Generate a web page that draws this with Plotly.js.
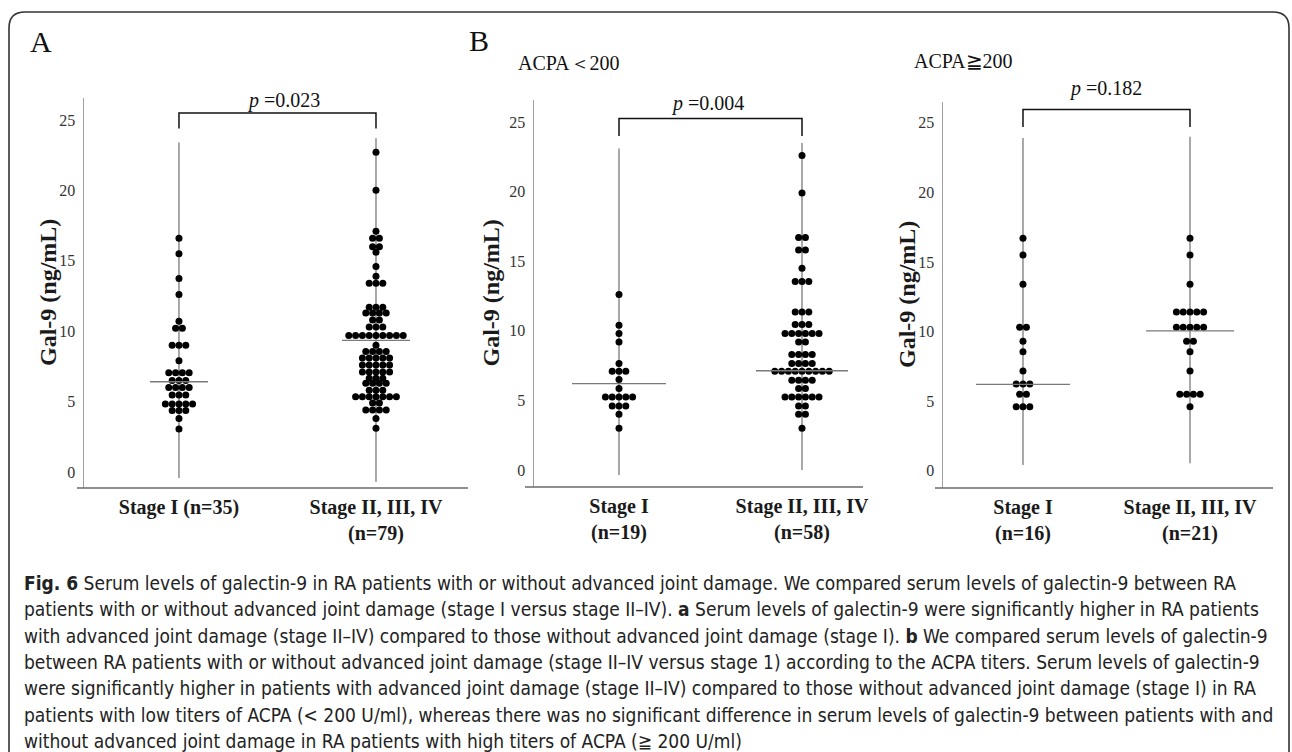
<!DOCTYPE html>
<html>
<head>
<meta charset="utf-8">
<script src="https://cdn.plot.ly/plotly-3.0.1.min.js"></script>
<style>html,body{margin:0;padding:0;background:#fff;}#chart{width:1292px;height:752px;}</style>
</head>
<body>
<div id="chart"></div>
<script>
// ---------------- DATA ----------------
const groupsA  = ["Stage I (n=35)", "Stage II, III, IV<br>(n=79)"];
const groupsB1 = ["Stage I<br>(n=19)", "Stage II, III, IV<br>(n=58)"];
const groupsB2 = ["Stage I<br>(n=16)", "Stage II, III, IV<br>(n=21)"];
const yTicks = [0, 5, 10, 15, 20, 25];

// Gal-9 (ng/mL), one entry per patient dot
const A_stage1 = [16.6, 15.5, 13.75, 12.6, 10.7, 10.2, 10.2, 9.0, 9.0, 9.0, 7.9,
  7.05, 7.05, 7.05, 7.05, 6.5, 6.5, 6.5, 6.0, 6.0, 6.0, 6.0, 5.47, 5.47, 5.47,
  4.83, 4.83, 4.83, 4.83, 4.83, 4.36, 4.36, 4.36, 3.8, 3.05];
const A_stage2 = [22.7, 20.0, 17.1, 16.6, 16.6, 16.0, 16.0, 15.6, 14.6, 13.9, 13.4, 13.4, 13.4,
  11.7, 11.7, 11.7, 11.3, 11.3, 11.3, 11.3, 10.8, 10.8, 10.3, 10.3, 10.3,
  9.7, 9.7, 9.7, 9.7, 9.7, 9.7, 9.7, 9.7, 9.7, 9.0, 8.55, 8.55, 8.55, 8.55,
  8.1, 8.1, 8.1, 8.1, 8.1, 7.6, 7.6, 7.6, 7.6, 7.6, 7.1, 7.1, 7.1, 7.1, 7.1,
  6.65, 6.65, 6.65, 6.3, 6.3, 6.3, 6.3, 5.8, 5.8, 5.8,
  5.35, 5.35, 5.35, 5.35, 5.35, 5.35, 5.35, 4.9, 4.9, 4.4, 4.4, 4.4, 4.4, 3.8, 3.1];
const B1_stage1 = [12.6, 10.4, 9.8, 9.2, 7.65, 7.1, 7.1, 7.1, 6.5, 5.85,
  5.25, 5.25, 5.25, 5.25, 5.25, 4.6, 4.6, 4.6, 4.0, 3.0];
const B1_stage2 = [22.6, 19.9, 16.7, 16.7, 15.8, 15.8, 14.5, 13.55, 13.55, 13.55,
  11.35, 11.35, 11.35, 10.45, 10.45, 10.45, 9.8, 9.8, 9.8, 9.8, 9.8, 9.8, 9.2, 9.2,
  8.3, 8.3, 8.3, 8.3, 7.65, 7.65, 7.65, 7.65, 7.1, 7.1, 7.1, 7.1, 7.1, 7.1, 7.1, 7.1, 7.1,
  6.45, 6.45, 6.45, 6.45, 5.85, 5.85, 5.25, 5.25, 5.25, 5.25, 5.25, 5.25,
  4.6, 4.6, 4.0, 4.0, 3.0];
const B2_stage1 = [16.7, 15.5, 13.4, 10.3, 10.3, 9.3, 8.55, 7.16, 6.23, 6.23, 6.23,
  5.5, 5.5, 4.6, 4.6, 4.6];
const B2_stage2 = [16.7, 15.5, 13.4, 11.4, 11.4, 11.4, 11.4, 11.4, 10.3, 10.3, 10.3, 10.3, 10.3,
  9.3, 9.3, 8.55, 7.16, 5.5, 5.5, 5.5, 5.5, 4.6];

// horizontal centre line of each group, and extent of each group's vertical line
const A_center  = [6.41, 9.35];
const B1_center = [6.2, 7.13];
const B2_center = [6.2, 10.05];
const A_lineTop  = [23.4, 23.7],  A_lineBottom  = [-0.43, -0.7];
const B1_lineTop = [23.1, 23.5],  B1_lineBottom = [-0.36, 0.0];
const B2_lineTop = [23.9, 24.0],  B2_lineBottom = [0.41, 0.53];
// comparison bracket: [bar level, leg end]
const A_bracket  = [25.5, 24.4];
const B1_bracket = [25.26, 24.0];
const B2_bracket = [25.96, 24.7];
const pValues = ["0.023", "0.004", "0.182"];

// ---------------- LAYOUT GEOMETRY (px) ----------------
const W = 1292, H = 752;
const px = v => v / W, py = v => 1 - v / H;
const panels = [
  {id: "", groups: groupsA, data: [A_stage1, A_stage2], center: A_center, top: A_lineTop, bot: A_lineBottom,
   bracket: A_bracket, p: pValues[0], xdom: [84, 468], ydom: [98, 488], xr: [-0.482, 1.467], yr: [-1.136, 26.56],
   ppu: 197, halfLine: [29, 34], xOver: 77, pPos: [283, 100], titleX: 48},
  {id: "2", groups: groupsB1, data: [B1_stage1, B1_stage2], center: B1_center, top: B1_lineTop, bot: B1_lineBottom,
   bracket: B1_bracket, p: pValues[1], xdom: [534, 863], ydom: [100, 487], xr: [-0.4645, 1.3333], yr: [-1.22, 26.58],
   ppu: 183, halfLine: [47, 46], xOver: 525, pPos: [707, 103], titleX: 490},
  {id: "3", groups: groupsB2, data: [B2_stage1, B2_stage2], center: B2_center, top: B2_lineTop, bot: B2_lineBottom,
   bracket: B2_bracket, p: pValues[2], xdom: [943, 1273], ydom: [102, 488], xr: [-0.479, 1.497], yr: [-1.243, 26.49],
   ppu: 167, halfLine: [47, 44], xOver: 935, pPos: [1105, 88], titleX: 907}
];
const dotGapPx = 6.8;
const lineGrey = "#7a7a7a";
const serif = "Liberation Serif, Times New Roman, serif";

function swarmX(values, centre, unitPerPx) {
  const counts = {}, seen = {};
  values.forEach(v => counts[v] = (counts[v] || 0) + 1);
  return values.map(v => {
    seen[v] = seen[v] === undefined ? 0 : seen[v] + 1;
    return centre + (seen[v] - (counts[v] - 1) / 2) * dotGapPx * unitPerPx;
  });
}

const traces = [];
const layout = {
  width: W, height: H, margin: {l: 0, r: 0, t: 0, b: 0},
  paper_bgcolor: "#fff", plot_bgcolor: "rgba(0,0,0,0)", showlegend: false,
  annotations: [], shapes: []
};

panels.forEach(P => {
  const xa = "x" + P.id, ya = "y" + P.id;
  const upp = 1 / P.ppu;
  // vertical group lines
  [0, 1].forEach(i => traces.push({type: "scatter", mode: "lines", xaxis: xa, yaxis: ya,
    x: [i, i], y: [P.bot[i], P.top[i]], line: {color: lineGrey, width: 1.3}, hoverinfo: "skip"}));
  // dots
  [0, 1].forEach(i => traces.push({type: "scatter", mode: "markers", xaxis: xa, yaxis: ya,
    x: swarmX(P.data[i], i, upp), y: P.data[i],
    marker: {color: "#000", size: 7, line: {width: 0}}, name: P.groups[i]}));
  // centre lines
  [0, 1].forEach(i => traces.push({type: "scatter", mode: "lines", xaxis: xa, yaxis: ya,
    x: [i - P.halfLine[i] * upp, i + P.halfLine[i] * upp], y: [P.center[i], P.center[i]],
    line: {color: lineGrey, width: 1.3}, hoverinfo: "skip"}));
  // bracket
  traces.push({type: "scatter", mode: "lines", xaxis: xa, yaxis: ya,
    x: [0, 0, 1, 1], y: [P.bracket[1], P.bracket[0], P.bracket[0], P.bracket[1]],
    line: {color: "#111", width: 1.5}, hoverinfo: "skip", cliponaxis: false});

  const xkey = "xaxis" + P.id, ykey = "yaxis" + P.id;
  layout[xkey] = {domain: [px(P.xdom[0]), px(P.xdom[1])], range: P.xr, anchor: ya,
    tickvals: [0, 1], ticktext: P.groups, showgrid: false, zeroline: false, showline: false,
    ticks: "", ticklabelstandoff: 5,
    tickfont: {family: serif, size: 20, color: "#1a1a1a", weight: "bold"}, fixedrange: true};
  layout[ykey] = {domain: [py(P.ydom[1]), py(P.ydom[0])], range: P.yr, anchor: xa,
    tickvals: yTicks, showgrid: false, zeroline: false, showline: true, linecolor: "#a0a0a0", linewidth: 1.5,
    ticks: "", ticklabelstandoff: 4, tickfont: {family: serif, size: 16, color: "#333"}, fixedrange: true};
  // x baseline (slightly overhanging the y axis, as in the figure)
  layout.shapes.push({type: "line", xref: "paper", yref: "paper",
    x0: px(P.xOver), x1: px(P.xdom[1]), y0: py(P.ydom[1]), y1: py(P.ydom[1]),
    line: {color: "#6a6a6a", width: 1.5}});
  // y title
  layout.annotations.push({xref: "paper", yref: "paper", x: px(P.titleX), y: py((P.ydom[0] + P.ydom[1]) / 2),
    text: "<b>Gal-9 (ng/mL)</b>", textangle: -90, showarrow: false, xanchor: "center", yanchor: "middle",
    font: {family: serif, size: 24, color: "#1a1a1a"}});
  // p value
  layout.annotations.push({xref: "paper", yref: "paper", x: px(P.pPos[0]), y: py(P.pPos[1]),
    text: "<i>p</i> =" + P.p, showarrow: false, xanchor: "center", yanchor: "middle",
    font: {family: serif, size: 20, color: "#111"}});
});

// panel letters and subgroup titles
[["A", 41, 42, 30], ["B", 479, 40, 30], ["ACPA＜200", 569, 63, 20], ["ACPA≧200", 964, 61, 20]].forEach(t =>
  layout.annotations.push({xref: "paper", yref: "paper", x: px(t[1]), y: py(t[2]), text: t[0],
    showarrow: false, xanchor: "center", yanchor: "middle", font: {family: serif, size: t[3], color: "#111"}}));

// caption
const caption = [
  "<b>Fig. 6</b> Serum levels of galectin-9 in RA patients with or without advanced joint damage. We compared serum levels of galectin-9 between RA",
  "patients with or without advanced joint damage (stage I versus stage II–IV). <b>a</b> Serum levels of galectin-9 were significantly higher in RA patients",
  "with advanced joint damage (stage II–IV) compared to those without advanced joint damage (stage I). <b>b</b> We compared serum levels of galectin-9",
  "between RA patients with or without advanced joint damage (stage II–IV versus stage 1) according to the ACPA titers. Serum levels of galectin-9",
  "were significantly higher in patients with advanced joint damage (stage II–IV) compared to those without advanced joint damage (stage I) in RA",
  "patients with low titers of ACPA (&lt; 200 U/ml), whereas there was no significant difference in serum levels of galectin-9 between patients with and",
  "without advanced joint damage in RA patients with high titers of ACPA (≧ 200 U/ml)"
];
caption.forEach((line, k) => layout.annotations.push({xref: "paper", yref: "paper", x: px(22), y: py(583 + k * 26.3),
  text: line, showarrow: false, xanchor: "left", yanchor: "middle",
  font: {family: "Liberation Sans Narrow, Arial Narrow, DejaVu Sans Condensed, sans-serif", size: 19, color: "#222"}}));

// rounded frame (open at the bottom)
const r = 16, L = 9, R = 1289, T = 12;
const frame = `M ${px(L)},${py(H + 5)} L ${px(L)},${py(T + r)} Q ${px(L)},${py(T)} ${px(L + r)},${py(T)} ` +
  `L ${px(R - r)},${py(T)} Q ${px(R)},${py(T)} ${px(R)},${py(T + r)} L ${px(R)},${py(H + 5)}`;
layout.shapes.push({type: "path", xref: "paper", yref: "paper", path: frame, line: {color: "#333", width: 1.6}});

Plotly.newPlot("chart", traces, layout, {displayModeBar: false, staticPlot: true});
</script>
</body>
</html>
